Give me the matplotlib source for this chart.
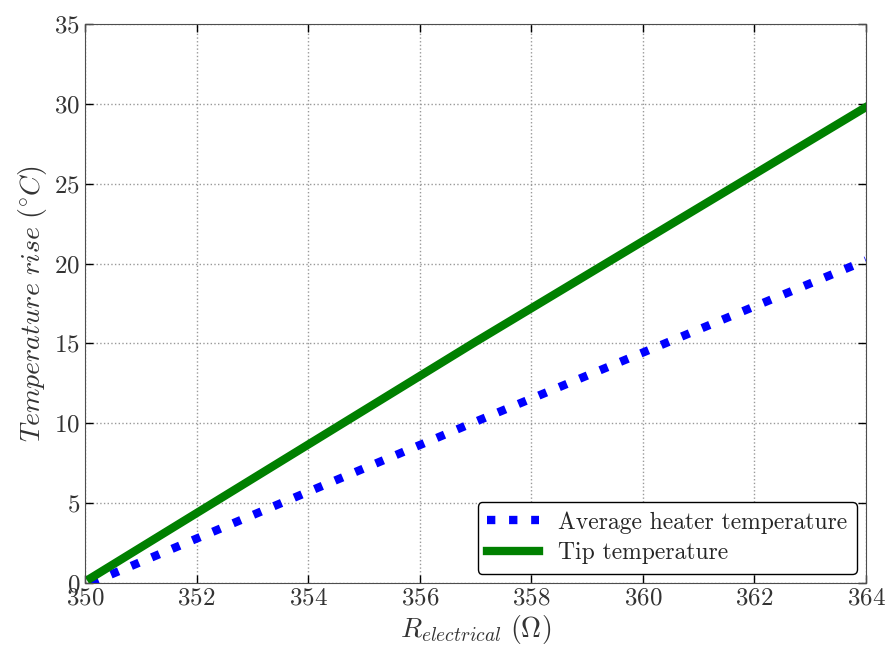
import matplotlib
matplotlib.use('Agg')
import matplotlib.pyplot as plt

plt.rcParams['font.family'] = 'serif'
plt.rcParams['font.serif'] = ['cmr10', 'DejaVu Serif']
plt.rcParams['mathtext.fontset'] = 'cm'
plt.rcParams['axes.formatter.use_mathtext'] = True
plt.rcParams['xtick.direction'] = 'in'
plt.rcParams['ytick.direction'] = 'in'

r_elec = [350.1, 357, 364]
avg_heater = [0.0, 10.1, 20.2]
tip_temp = [0.3, 15.1, 29.8]

fig = plt.figure(figsize=(8.89, 6.51), dpi=100)
ax = fig.add_axes([85 / 889, 1 - 583 / 651, 781 / 889, 559 / 651])

ax.plot(r_elec, avg_heater, color='blue', linestyle=':', linewidth=6,
        label='Average heater temperature')
ax.plot(r_elec, tip_temp, color='green', linestyle='-', linewidth=6,
        label='Tip temperature')

ax.set_xlim(350, 364)
ax.set_ylim(0, 35)
ax.set_xticks(range(350, 365, 2))
ax.set_yticks(range(0, 36, 5))
ax.tick_params(labelsize=18, top=True, right=True, length=6, width=1,
               labelcolor='0.2')
ax.grid(True, color='0.6', linestyle=':', linewidth=1)
for s in ax.spines.values():
    s.set_color('0.3')

ax.set_xlabel(r'$R_{electrical}\ (\Omega)$', fontsize=20, labelpad=2, color='0.2')
ax.set_ylabel(r'$Temperature\ rise\ (^{\circ}C)$', fontsize=20, color='0.2')

leg = ax.legend(loc='lower right', fontsize=17, fancybox=True, handlelength=2.2,
                borderaxespad=0.4, labelspacing=0.35)
leg.get_frame().set_edgecolor('black')
leg.get_frame().set_alpha(1)
for t in leg.get_texts():
    t.set_color('0.15')

fig.savefig('out.png', dpi=100)
